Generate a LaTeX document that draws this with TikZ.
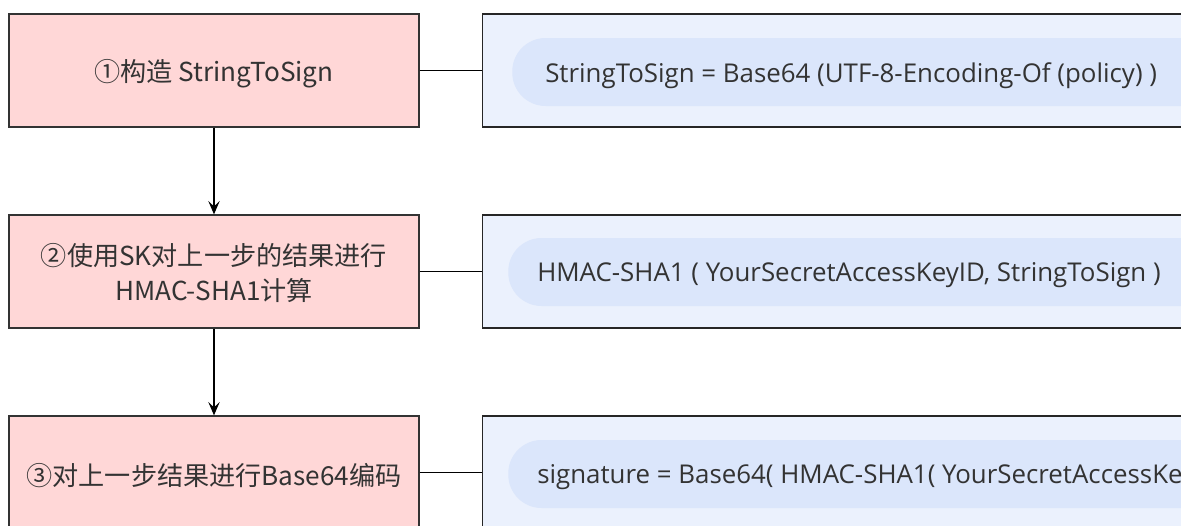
\documentclass[tikz,border=0pt]{standalone}
\usepackage{fontspec}
\newfontfamily\cjk{Noto Sans CJK SC}
\newfontfamily\cond{Open Sans}
\usetikzlibrary{arrows.meta}
\definecolor{pinkfill}{HTML}{FFD7D7}
\definecolor{boxblue}{HTML}{EBF1FD}
\definecolor{pillblue}{HTML}{DBE6FB}
\definecolor{txt}{HTML}{333333}
\begin{document}
\begin{tikzpicture}[x=0.75pt,y=-0.75pt,
  stepbox/.style={draw=black!80,line width=0.9pt,fill=pinkfill,minimum width=410*0.75pt,minimum height=113*0.75pt,inner sep=0pt},
  steptext/.style={inner sep=0pt,align=center,font=\cjk\fontsize{19.6}{26}\selectfont,text=txt},
  formbox/.style={draw=black!85,line width=0.9pt,fill=boxblue,minimum width=740*0.75pt,minimum height=113*0.75pt,inner sep=0pt,anchor=west},
  pill/.style={fill=pillblue,rounded corners=25pt,minimum width=760*0.75pt,minimum height=68*0.75pt,inner sep=0pt,anchor=west},
  formula/.style={anchor=west,inner sep=0pt,font=\cond\fontsize{19.4}{22}\selectfont,text=txt},
  link/.style={line width=1.1pt,black},
  flow/.style={line width=1.1pt,black,-{Stealth[length=10pt,width=8.5pt,inset=4pt]}}]
\useasboundingbox (0,0) rectangle (1181,525);
\clip (0,0) rectangle (1181,525);
\node[stepbox] (s1) at (214,70.5) {};
\node[stepbox] (s2) at (214,271.5) {};
\node[stepbox] (s3) at (214,472.5) {};
\node[steptext] (l1) at (214,73.5) {①构造 StringToSign};
\node[steptext] (l2) at (214,273) {②使用SK对上一步的结果进行\\HMAC-SHA1计算};
\node[steptext] (l3) at (214,475.5) {③对上一步结果进行Base64编码};
\node[formbox] (f1) at (482,70.5) {};
\node[formbox] (f2) at (482,271.5) {};
\node[formbox] (f3) at (482,472.5) {};
\node[pill] (p1) at (512,72) {};
\node[pill] (p2) at (508,272) {};
\node[pill] (p3) at (508,474) {};
\node[formula] (t1) at (545,75.5) {StringToSign = Base64 (UTF-8-Encoding-Of (policy) )};
\node[formula] (t2) at (537,275.5) {HMAC-SHA1 ( YourSecretAccessKeyID, StringToSign )};
\node[formula] (t3) at (537,477.5) {signature = Base64( HMAC-SHA1( YourSecretAccessKeyID, StringToSign ) )};
\draw[link] (s1.east) -- (f1.west);
\draw[link] (s2.east) -- (f2.west);
\draw[link] (s3.east) -- (f3.west);
\draw[flow] (s1.south) -- (s2.north);
\draw[flow] (s2.south) -- (s3.north);
\end{tikzpicture}
\end{document}
